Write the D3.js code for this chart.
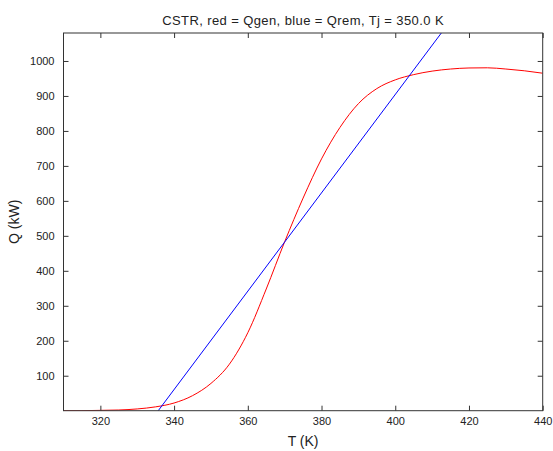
<!DOCTYPE html>
<html><head><meta charset="utf-8">
<script src="https://cdn.jsdelivr.net/npm/d3@7"></script>
<style>body{margin:0;background:#fff}svg{display:block}text{font-family:"Liberation Sans",Arial,sans-serif;fill:#222}</style>
</head><body>
<svg id="c" width="553" height="451"></svg>
<script>
const titleText = "CSTR, red = Qgen, blue = Qrem, Tj = 350.0 K";
const xTicks = [320, 340, 360, 380, 400, 420, 440];
const yTicks = [100, 200, 300, 400, 500, 600, 700, 800, 900, 1000];
// Qgen (red)
const genT = [310, 315, 320, 325, 330, 335, 340, 345, 350, 355, 360, 365, 370, 375, 380, 385, 390, 395, 400, 405, 410, 415, 420, 425, 430, 435, 440];
const genQ = [0, 0, 1, 2, 5, 11, 22, 43, 78, 133, 223, 348, 483, 608, 720, 810, 878, 921, 946, 961, 971, 977, 980, 980.5, 977, 972, 965];
// Qrem (blue) straight line
const remT = [335.7, 412.5];
const remQ = [0, 1080];

const svg = d3.select("#c");
const L = 63.5, R = 542.7, T = 33, B = 410.7;
const x = d3.scaleLinear().domain([310, 440]).range([L, R]);
const y = d3.scaleLinear().domain([0, 1080]).range([B, T]);

svg.append("defs").append("clipPath").attr("id", "clip")
  .append("rect").attr("x", L).attr("y", T).attr("width", R - L).attr("height", B - T);

const g = svg.append("g").attr("clip-path", "url(#clip)");
g.append("path").datum(genT.map((t, i) => [t, genQ[i]]))
  .attr("d", d3.line().x(d => x(d[0])).y(d => y(d[1])).curve(d3.curveMonotoneX))
  .attr("fill", "none").attr("stroke", "#ff0000").attr("stroke-width", 1);
g.append("path").datum(remT.map((t, i) => [t, remQ[i]]))
  .attr("d", d3.line().x(d => x(d[0])).y(d => y(d[1])))
  .attr("fill", "none").attr("stroke", "#0000ff").attr("stroke-width", 1);

const axColor = "#333";
const tl = 5;
const xb = svg.append("g").attr("transform", `translate(0,${B})`)
  .call(d3.axisBottom(x).tickValues(xTicks).tickSize(-tl).tickPadding(7).tickFormat(d3.format("d")));
const xt = svg.append("g").attr("transform", `translate(0,${T})`)
  .call(d3.axisTop(x).tickValues(xTicks).tickSize(-tl).tickFormat(""));
const yl = svg.append("g").attr("transform", `translate(${L},0)`)
  .call(d3.axisLeft(y).tickValues(yTicks).tickSize(-tl).tickPadding(9).tickFormat(d3.format("d")));
const yr = svg.append("g").attr("transform", `translate(${R},0)`)
  .call(d3.axisRight(y).tickValues(yTicks).tickSize(-tl).tickFormat(""));
[xb, xt, yl, yr].forEach(a => {
  a.select(".domain").remove();
  a.selectAll("line").attr("stroke", axColor);
  a.selectAll("text").style("font-size", "11px").attr("fill", "#222").style("font-family", '"Liberation Sans",Arial,sans-serif');
});
svg.append("rect").attr("x", L).attr("y", T).attr("width", R - L).attr("height", B - T)
  .attr("fill", "none").attr("stroke", axColor).attr("stroke-width", 1);

svg.append("text").attr("x", (L + R) / 2).attr("y", 25).attr("text-anchor", "middle")
  .style("font-size", "13px").style("letter-spacing", "0.4px").text(titleText);
svg.append("text").attr("x", (L + R) / 2).attr("y", 446).attr("text-anchor", "middle")
  .style("font-size", "14px").text("T (K)");
svg.append("text").attr("transform", `translate(19,${(T + B) / 2}) rotate(-90)`).attr("text-anchor", "middle")
  .style("font-size", "14px").text("Q (kW)");
</script>
</body></html>
